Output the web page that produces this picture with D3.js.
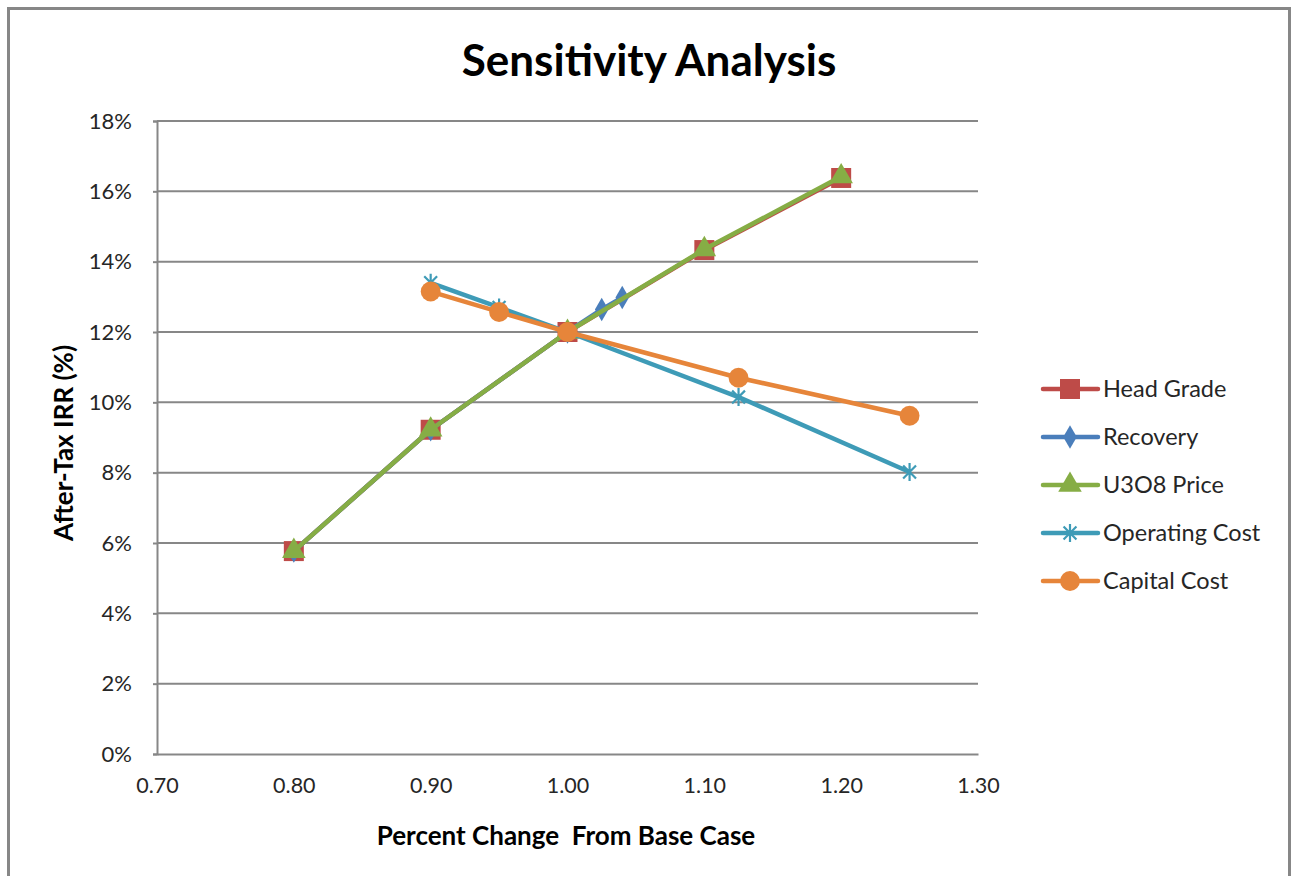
<!DOCTYPE html>
<html>
<head>
<meta charset="utf-8">
<script src="https://cdn.jsdelivr.net/npm/d3@7"></script>
<style>
  html, body { margin: 0; padding: 0; background: #fff; }
  svg { display: block; font-family: Lato, "Open Sans", "Liberation Sans", sans-serif; }
</style>
</head>
<body>
<svg id="chart" width="1291" height="876"></svg>
<script>
// Sensitivity of after-tax IRR to changes in key inputs
const seriesNames = ["Head Grade", "Recovery", "U3O8 Price", "Operating Cost", "Capital Cost"];
const headGradeX = [0.80, 0.90, 1.00, 1.10, 1.20];
const headGradeY = [5.77, 9.22, 12.0, 14.33, 16.38];
const recoveryX = [0.80, 0.90, 1.00, 1.025, 1.04];
const recoveryY = [5.77, 9.22, 12.0, 12.64, 12.98];
const priceX = [0.80, 0.90, 1.00, 1.10, 1.20];
const priceY = [5.77, 9.22, 12.0, 14.35, 16.42];
const opCostX = [0.90, 0.95, 1.00, 1.125, 1.25];
const opCostY = [13.40, 12.70, 12.0, 10.15, 8.02];
const capCostX = [0.90, 0.95, 1.00, 1.125, 1.25];
const capCostY = [13.15, 12.57, 12.0, 10.70, 9.62];
const xTicks = [0.70, 0.80, 0.90, 1.00, 1.10, 1.20, 1.30];
const yTicks = [0, 2, 4, 6, 8, 10, 12, 14, 16, 18];

const colors = ["#BE4B48", "#4A7EBB", "#86AD45", "#3E9BB7", "#E6853A"];

// Excel-style asterisk marker: an X crossed with a vertical stroke
const asterisk = {
  draw(ctx, size) {
    const r = Math.sqrt(size) / 2;
    const d = r * 0.72;
    ctx.moveTo(0, -r); ctx.lineTo(0, r);
    ctx.moveTo(-d, -d); ctx.lineTo(d, d);
    ctx.moveTo(-d, d); ctx.lineTo(d, -d);
  }
};

const series = [
  { name: seriesNames[0], xs: headGradeX, ys: headGradeY, color: colors[0], sym: d3.symbolSquare, size: 400, filled: true },
  { name: seriesNames[1], xs: recoveryX, ys: recoveryY, color: colors[1], sym: d3.symbolDiamond, size: 160, filled: true },
  { name: seriesNames[2], xs: priceX, ys: priceY, color: colors[2], sym: d3.symbolTriangle, size: 240, filled: true },
  { name: seriesNames[3], xs: opCostX, ys: opCostY, color: colors[3], sym: asterisk, size: 320, filled: false },
  { name: seriesNames[4], xs: capCostX, ys: capCostY, color: colors[4], sym: d3.symbolCircle, size: 310, filled: true }
];

const svg = d3.select("#chart");

// outer chart frame
svg.append("path")
  .attr("d", "M8.5,880 L8.5,8.5 L1289.5,8.5 L1289.5,880")
  .attr("fill", "none").attr("stroke", "#878787").attr("stroke-width", 3);

const x = d3.scaleLinear().domain([0.70, 1.30]).range([157, 978]);
const y = d3.scaleLinear().domain([0, 18]).range([754, 121]);

// horizontal gridlines
svg.append("g").selectAll("line").data(yTicks.filter(t => t > 0)).join("line")
  .attr("x1", x(0.70)).attr("x2", x(1.30))
  .attr("y1", d => y(d)).attr("y2", d => y(d))
  .attr("stroke", "#878787").attr("stroke-width", 2);

// y axis
const yAxis = svg.append("g").attr("transform", `translate(${x(0.70)},0)`)
  .call(d3.axisLeft(y).tickValues(yTicks).tickFormat(d => d + "%").tickSize(4).tickPadding(21));
yAxis.select(".domain").attr("stroke", "#878787").attr("stroke-width", 2);
yAxis.selectAll(".tick line").attr("stroke", "#878787").attr("stroke-width", 2);
yAxis.selectAll("text").attr("font-size", 22).attr("fill", "#262626")
  .attr("font-family", "Lato, 'Open Sans', sans-serif");

// x axis
const xAxis = svg.append("g").attr("transform", `translate(0,${y(0)})`)
  .call(d3.axisBottom(x).tickValues(xTicks).tickFormat(d3.format(".2f")).tickSize(0).tickPadding(24));
xAxis.select(".domain").attr("stroke", "#878787").attr("stroke-width", 2);
xAxis.selectAll("text").attr("font-size", 21.5).attr("fill", "#262626")
  .attr("font-family", "Lato, 'Open Sans', sans-serif");

// series lines and markers
const line = d3.line().x(d => x(d[0])).y(d => y(d[1]));
series.forEach(s => {
  const pts = s.xs.map((v, i) => [v, s.ys[i]]);
  const g = svg.append("g");
  g.append("path").datum(pts).attr("d", line)
    .attr("fill", "none").attr("stroke", s.color).attr("stroke-width", 4.5)
    .attr("stroke-linejoin", "round");
  g.selectAll("path.mk").data(pts).join("path").attr("class", "mk")
    .attr("transform", d => `translate(${x(d[0])},${y(d[1])})`)
    .attr("d", d3.symbol().type(s.sym).size(s.size))
    .attr("fill", s.filled ? s.color : "none")
    .attr("stroke", s.color).attr("stroke-width", s.filled ? 0 : 2.2);
});

// legend
const legend = svg.append("g");
series.forEach((s, i) => {
  const ly = 389 + i * 48;
  const g = legend.append("g").attr("transform", `translate(0,${ly})`);
  g.append("line").attr("x1", 1043).attr("x2", 1098).attr("y1", 0).attr("y2", 0)
    .attr("stroke", s.color).attr("stroke-width", 4.5).attr("stroke-linecap", "round");
  g.append("path").attr("transform", "translate(1070,0)")
    .attr("d", d3.symbol().type(s.sym).size(s.size))
    .attr("fill", s.filled ? s.color : "none")
    .attr("stroke", s.color).attr("stroke-width", s.filled ? 0 : 2.2);
  g.append("text").attr("x", 1103).attr("y", 0).attr("dy", "0.35em")
    .attr("font-size", 23.5).attr("fill", "#262626").text(s.name);
});

// titles
svg.append("text").attr("x", 649).attr("y", 76).attr("text-anchor", "middle")
  .attr("font-size", 44).attr("font-weight", "bold").attr("fill", "#000")
  .text("Sensitivity Analysis");
svg.append("text").attr("x", 566).attr("y", 845).attr("text-anchor", "middle")
  .attr("font-size", 26).attr("font-weight", "bold").attr("fill", "#000")
  .attr("xml:space", "preserve")
  .text("Percent Change  From Base Case");
svg.append("text").attr("transform", "translate(73,443) rotate(-90)").attr("text-anchor", "middle")
  .attr("font-size", 26).attr("font-weight", "bold").attr("fill", "#000")
  .text("After-Tax IRR (%)");
</script>
</body>
</html>
